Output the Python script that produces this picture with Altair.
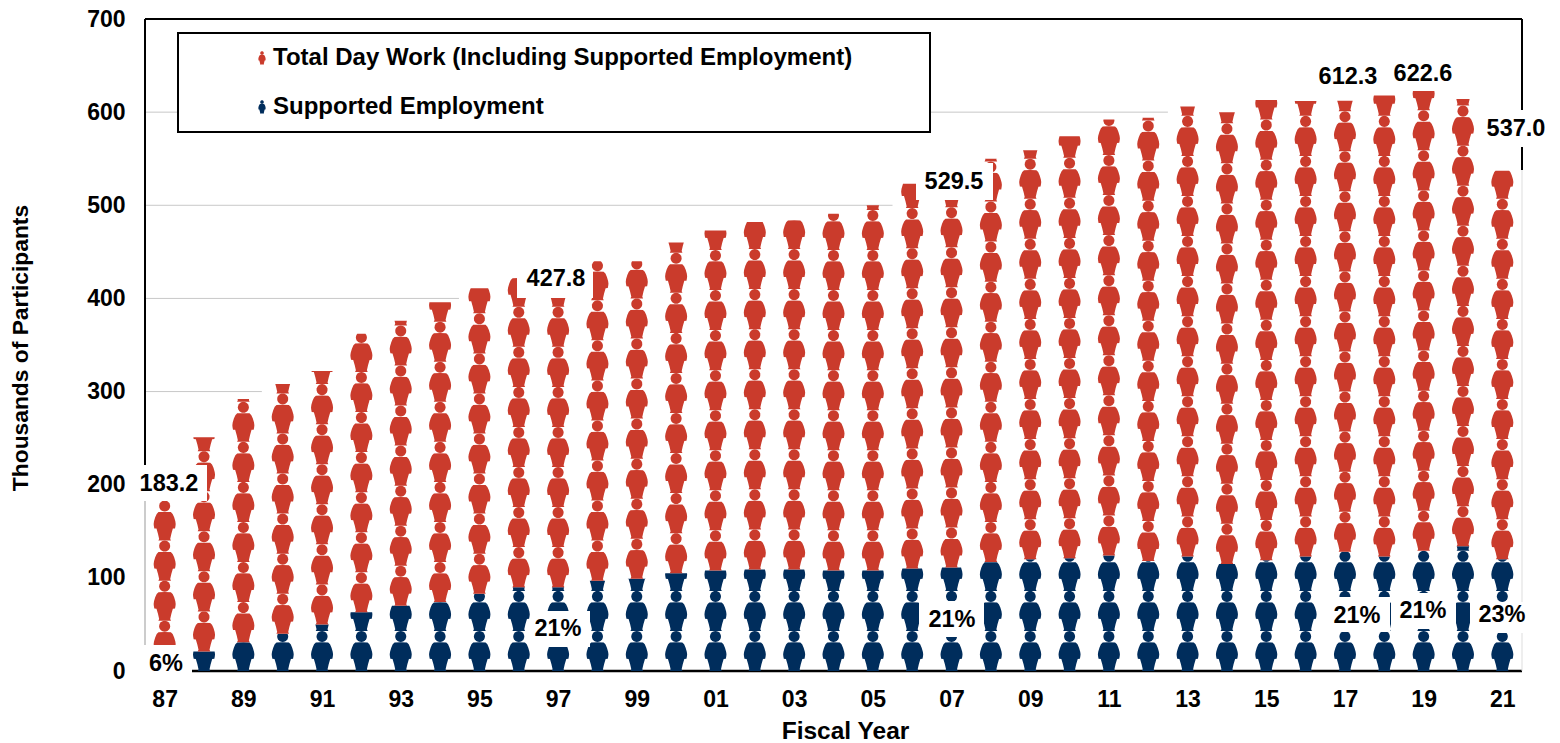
import altair as alt
import pandas as pd
import math

years = ["87","88","89","90","91","92","93","94","95","96","97","98","99","00","01","02","03","04",
         "05","06","07","08","09","10","11","12","13","14","15","16","17","18","19","20","21"]
total = [183.2,251,292,308,322,362,376,396,411,422,427.8,440,440,460,473,482,484,491,
         500,523,529.5,550,559,574,592,594,606,600,613,612,612.3,618,622.6,614,537.0]
supported = [11,21,31,40,50,63,70,74,83,90,90,97,99,105,108,109,109,108,
             108,110,111,117,120,121,124,118,123,115,119,123,128,123,129,134,120]
series_names = ["Total Day Work (Including Supported Employment)", "Supported Employment"]
colors = ["#CA3B2C", "#002D5C"]
y_ticks = [0,100,200,300,400,500,600,700]
grid_values = [300,400,500,600]
grid_end_years = [2.47,7.48,18.5,25.5]
value_labels = [("183.2",169,484),("427.8",556,279),("529.5",954,182),("612.3",1348,77),("622.6",1423,74),("537.0",1516,129),
                ("6%",166,664),("21%",558,629),("21%",952,620),("21%",1357,616),("21%",1423,611),("23%",1502,615)]
label_boxes = [(138,207,465,501),(140,192,645,686),(517,593,270,298),(916,993,163,200),(1480,1550,110,147),
               (530,590,611,647),(919,984,601,637),(1325,1390,597,632),(1391,1456,593,629),(1470,1527,602,633)]
legend_box = (178,930,33,132)
legend_rows = [(262,273,58),(262,273,107)]

W, H = 1377, 652
L, T = 145, 19
X0, X1 = -0.5, 34.5
PX = W/(X1-X0)
PY = H/700
def dx(px): return (px-L)/PX+X0
def dy(py): return (T+H-py)/PY

# person silhouette: (height from feet, half width), in units where one icon repeat = 120
body = [(0,19),(5,16.5),(20,20),(36,24.5),(36.5,31),(44,32.5),(50,33),(58,32),(70,28.5),(80,24),(85.5,18.5),(86,0)]
head = [(103.5+16.5*math.sin(a/12*math.pi-math.pi/2), 16.5*math.cos(a/12*math.pi-math.pi/2)) for a in range(0,13)]
head[0] = (87,0.01); head[-1] = (120,0.01)
PERIOD = 120
UNIT = 43.0

def interp(part, h):
    for (a,wa),(b,wb) in zip(part, part[1:]):
        if a <= h <= b:
            return wa+(wb-wa)*(h-a)/(b-a) if b>a else wa
    return 0

def clipped(part, hi):
    pts = [p for p in part if p[0] < hi]
    if not pts: return []
    if part[-1][0] >= hi:
        pts.append((hi, interp(part, hi)))
    return pts

rows = []
gid = 0
for i,(tot,sup) in enumerate(zip(total,supported)):
    for name,lo,hi in ((series_names[1],0,sup),(series_names[0],sup,tot)):
        k = 0
        while lo+k*UNIT < hi:
            base = lo+k*UNIT
            lim = (hi-base)/UNIT*PERIOD
            for part in (body,head):
                pts = clipped(part, lim)
                if len(pts) >= 2:
                    gid += 1
                    for h,w in pts:
                        rows.append(dict(y=round(base+h/PERIOD*UNIT,2), a=round(i-w/3/PX,3), b=round(i+w/3/PX,3), s=name, g=gid))
            k += 1
first_legend_gid = gid+1

# legend icons, same silhouette at a third of the size
for (ix,_,iy),name in zip(legend_rows,series_names):
    for part in (body,head):
        gid += 1
        for h,w in part:
            rows.append(dict(y=round(dy(iy+6.5)+h/PERIOD*UNIT*0.33,2), a=round(dx(ix)-w/3*0.33/PX,3), b=round(dx(ix)+w/3*0.33/PX,3), s=name, g=gid))
people = pd.DataFrame(rows)

xs = alt.Scale(domain=[X0,X1], nice=False, zero=False)
ys = alt.Scale(domain=[0,700], nice=False, zero=False)
FONT = "Liberation Sans"

lines = [dict(x=X0,x2=e,y=v,y2=v,c="#c8c8c8",w=1) for v,e in zip(grid_values,grid_end_years)]
lines += [
    dict(x=X0,x2=X1,y=700,y2=700,c="#000000",w=2),
    dict(x=X0,x2=X1,y=0,y2=0,c="#000000",w=2.5),
    dict(x=X0,x2=X0,y=dy(501),y2=dy(645),c="#999999",w=1),
    dict(x=X0,x2=X0,y=700,y2=dy(465),c="#000000",w=2),
    dict(x=X1,x2=X1,y=700,y2=dy(170),c="#000000",w=2),
    dict(x=X1,x2=X1,y=dy(170),y2=0,c="#dddddd",w=1),
]
rule = alt.Chart(pd.DataFrame(lines)).mark_rule().encode(
    x=alt.X("x:Q",scale=xs,axis=alt.Axis(values=list(range(0,35,2)),
        labelExpr="format((87+datum.value)%100,'02d')",title="Fiscal Year",grid=False,domain=False,ticks=False,
        labelFont=FONT,labelFontWeight="bold",labelFontSize=23,labelColor="#000",labelPadding=17,labelFlush=False,labelOverlap=False,
        titleFont=FONT,titleFontWeight="bold",titleFontSize=24.5,titleColor="#000",titlePadding=8,titleX=700)),
    x2="x2:Q",
    y=alt.Y("y:Q",scale=ys,axis=alt.Axis(values=y_ticks,title="Thousands of Participants",grid=False,domain=False,ticks=False,
        labelFont=FONT,labelFontWeight="bold",labelFontSize=23,labelColor="#000",labelPadding=20,
        titleFont=FONT,titleFontWeight="bold",titleFontSize=22.8,titleColor="#000",titlePadding=54.5,titleY=328.5)),
    y2="y2:Q",
    color=alt.Color("c:N",scale=None),
    strokeWidth=alt.StrokeWidth("w:Q",scale=None),
)

def area_layer(df):
    return alt.Chart(df).mark_area(orient="horizontal").encode(
        y=alt.Y("y:Q",scale=ys),
        x=alt.X("a:Q",scale=xs),
        x2="b:Q",
        detail="g:N",
        color=alt.Color("s:N",scale=alt.Scale(domain=series_names,range=colors),legend=None),
    )

chart_people = area_layer(people[people.g < first_legend_gid])
legend_people = area_layer(people[people.g >= first_legend_gid])

boxes = pd.DataFrame([dict(x=dx(a),x2=dx(b),y=dy(c),y2=dy(d)) for a,b,c,d in label_boxes])
box_layer = alt.Chart(boxes).mark_rect(color="white").encode(
    x=alt.X("x:Q",scale=xs),x2="x2:Q",y=alt.Y("y:Q",scale=ys),y2="y2:Q")

lb = pd.DataFrame([dict(x=dx(legend_box[0]),x2=dx(legend_box[1]),y=dy(legend_box[2]),y2=dy(legend_box[3]))])
lb_layer = alt.Chart(lb).mark_rect(fill="white",stroke="black",strokeWidth=2).encode(
    x=alt.X("x:Q",scale=xs),x2="x2:Q",y=alt.Y("y:Q",scale=ys),y2="y2:Q")

tx = pd.DataFrame([dict(t=t,x=dx(a),y=dy(b)) for t,a,b in value_labels])
tx_layer = alt.Chart(tx).mark_text(font=FONT,fontWeight="bold",fontSize=23.5,color="black",baseline="middle",align="center").encode(
    x=alt.X("x:Q",scale=xs),y=alt.Y("y:Q",scale=ys),text="t:N")

lt = pd.DataFrame([dict(t=n,x=dx(r[1]),y=dy(r[2])) for n,r in zip(series_names,legend_rows)])
lt_layer = alt.Chart(lt).mark_text(font=FONT,fontWeight="bold",fontSize=24,color="black",baseline="middle",align="left").encode(
    x=alt.X("x:Q",scale=xs),y=alt.Y("y:Q",scale=ys),text="t:N")

chart = alt.layer(rule,chart_people,box_layer,lb_layer,legend_people,tx_layer,lt_layer).properties(
    width=W,height=H,padding={"left":1,"top":0,"right":0,"bottom":0},background="white"
).configure_view(stroke=None)
chart.save("out.html",embed_options={"renderer":"svg","actions":False})
